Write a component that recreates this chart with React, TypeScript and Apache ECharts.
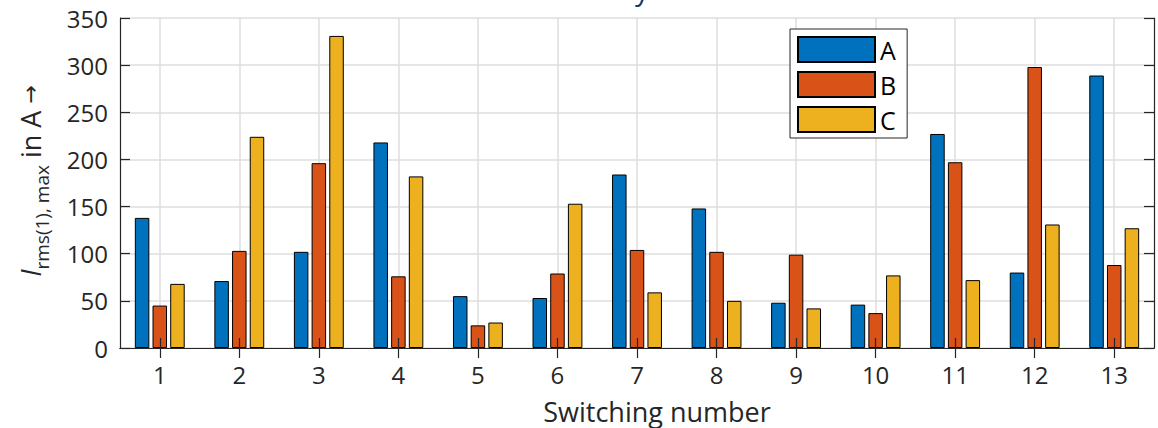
import React, { useEffect, useRef } from "react";
import * as echarts from "echarts";

const categories = ["1", "2", "3", "4", "5", "6", "7", "8", "9", "10", "11", "12", "13"];
const seriesNames = ["A", "B", "C"];
const valuesA = [138, 71, 102, 218, 55, 53, 184, 148, 48, 46, 227, 80, 289];
const valuesB = [45, 103, 196, 76, 24, 79, 104, 102, 99, 37, 197, 298, 88];
const valuesC = [68, 224, 331, 182, 27, 153, 59, 50, 42, 77, 72, 131, 127];
const yTicks = { min: 0, max: 350, interval: 50 };
const colors = ["#0072BD", "#D95319", "#EDB120"];

const FONT = "'Open Sans', 'Noto Sans', sans-serif";
const AXIS_COLOR = "#262626";
const GRID_COLOR = "#dedede";

export default function App() {
  const ref = useRef<HTMLDivElement>(null);
  useEffect(() => {
    if (!ref.current) return;
    const chart = echarts.init(ref.current, undefined, { renderer: "svg" });
    const values = [valuesA, valuesB, valuesC];
    const axisLine = { show: true, lineStyle: { color: AXIS_COLOR, width: 1.2 } };
    const tick = { show: true, inside: true, alignWithLabel: true, length: 10, lineStyle: { color: AXIS_COLOR, width: 1.2 } };
    chart.setOption({
      animation: false,
      backgroundColor: "#ffffff",
      textStyle: { fontFamily: FONT },
      grid: { left: 120, top: 18, width: 1034, height: 330, containLabel: false },
      legend: {
        data: seriesNames,
        orient: "vertical",
        left: 790,
        top: 29,
        icon: "rect",
        itemWidth: 77,
        itemHeight: 25,
        itemGap: 8,
        padding: [7, 11, 5, 7],
        backgroundColor: "#ffffff",
        borderColor: AXIS_COLOR,
        borderWidth: 1,
        textStyle: { fontSize: 25, color: "#000000", fontFamily: FONT },
      },
      xAxis: [
        {
          type: "category",
          data: categories,
          position: "bottom",
          z: 10,
          axisLine,
          axisTick: tick,
          axisLabel: { fontSize: 24, color: AXIS_COLOR, margin: 14, fontFamily: FONT },
          splitLine: { show: false },
        },
        {
          type: "category",
          data: categories,
          position: "top",
          axisLine,
          axisTick: tick,
          axisLabel: { show: false },
          splitLine: { show: true, alignWithLabel: true, lineStyle: { color: GRID_COLOR, width: 1.5 } },
        },
      ],
      yAxis: [
        {
          type: "value",
          min: yTicks.min,
          max: yTicks.max,
          interval: yTicks.interval,
          position: "left",
          z: 10,
          axisLine,
          axisTick: { show: true, inside: true, length: 10, lineStyle: { color: AXIS_COLOR, width: 1.2 } },
          axisLabel: { fontSize: 24, color: AXIS_COLOR, margin: 12, fontFamily: FONT },
          splitLine: { show: false },
        },
        {
          type: "value",
          min: yTicks.min,
          max: yTicks.max,
          interval: yTicks.interval,
          position: "right",
          axisLine,
          axisTick: { show: true, inside: true, length: 10, lineStyle: { color: AXIS_COLOR, width: 1.2 } },
          axisLabel: { show: false },
          splitLine: { show: true, lineStyle: { color: GRID_COLOR, width: 1.5 } },
        },
      ],
      series: seriesNames.map((name, i) => ({
        name,
        type: "bar",
        xAxisIndex: 0,
        yAxisIndex: 0,
        data: values[i],
        barWidth: 14.5,
        barGap: "22%",
        itemStyle: { color: colors[i], borderColor: "#000000", borderWidth: 1 },
      })),
      graphic: [
        {
          type: "text",
          x: 30,
          y: 181,
          rotation: Math.PI / 2,
          style: {
            text: "{i|I}{s|rms(1), max}{n| in A }{a|→}",
            align: "center",
            verticalAlign: "middle",
            fill: AXIS_COLOR,
            rich: {
              i: { fontSize: 27, fontStyle: "italic", fontFamily: FONT, fill: AXIS_COLOR, lineHeight: 42, verticalAlign: "middle" },
              s: { fontSize: 19, fontFamily: FONT, fill: AXIS_COLOR, verticalAlign: "bottom" },
              n: { fontSize: 27, fontFamily: FONT, fill: AXIS_COLOR, lineHeight: 42, verticalAlign: "middle" },
              a: { fontSize: 22, fontFamily: "'DejaVu Sans', sans-serif", fill: AXIS_COLOR, lineHeight: 42, verticalAlign: "middle" },
            },
          },
        },
        {
          type: "text",
          x: 657,
          y: 411,
          style: {
            text: "Switching number",
            align: "center",
            verticalAlign: "middle",
            fontSize: 27,
            fontFamily: FONT,
            fill: AXIS_COLOR,
          },
        },
        {
          type: "text",
          x: 642,
          y: 3,
          style: {
            text: "y",
            align: "center",
            verticalAlign: "bottom",
            fontSize: 28,
            fontFamily: FONT,
            fill: "#0e3a6a",
          },
        },
      ],
    });
    return () => chart.dispose();
  }, []);
  return (
    <div
      ref={ref}
      style={{ position: "absolute", left: 0, top: 0, width: 1158, height: 428 }}
    />
  );
}
